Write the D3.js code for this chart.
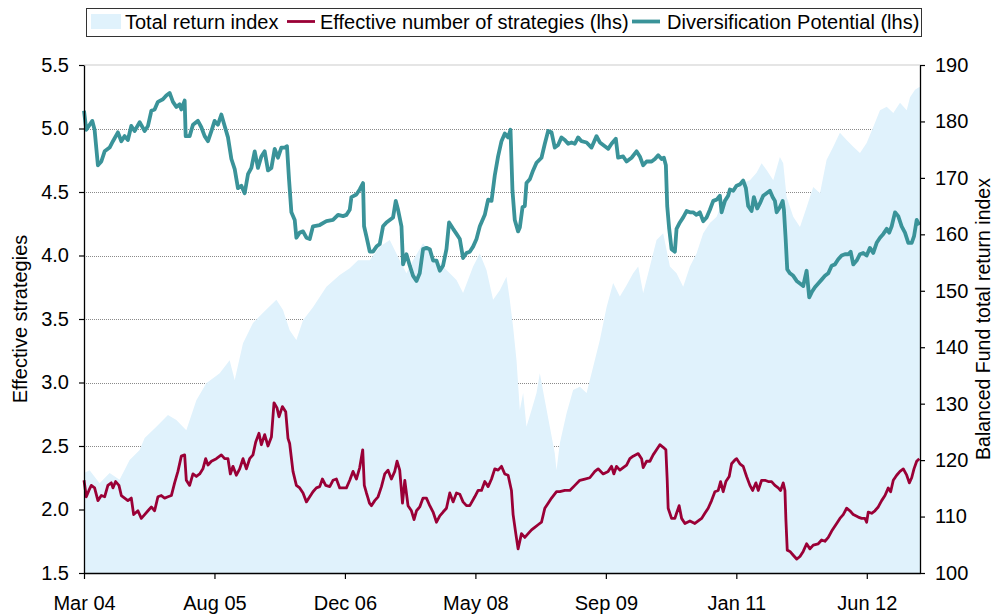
<!DOCTYPE html>
<html>
<head>
<meta charset="utf-8">
<script src="https://cdn.jsdelivr.net/npm/d3@7"></script>
<style>
  html, body { margin: 0; padding: 0; background: #ffffff; }
  svg { display: block; font-family: "Liberation Sans", Arial, sans-serif; }
</style>
</head>
<body>
<svg id="chart" width="995" height="614"></svg>
<script>
// ---------------- DATA (x = months since Mar 2004) ----------------
const xTickMonths = [0, 16.5, 33, 49.5, 66, 82.5, 99];
const xTickLabels = ["Mar 04", "Aug 05", "Dec 06", "May 08", "Sep 09", "Jan 11", "Jun 12"];
const leftTicks = [1.5, 2.0, 2.5, 3.0, 3.5, 4.0, 4.5, 5.0, 5.5];
const rightTicks = [100, 110, 120, 130, 140, 150, 160, 170, 180, 190];
const seriesNames = ["Total return index", "Effective number of strategies (lhs)", "Diversification Potential (lhs)"];
const axisTitles = ["Effective strategies", "Balanced Fund total return index"];

// Balanced Fund total return index (rhs)
const totalReturn = [
  [0,117.7],[0.71,118.2],[1.97,115.9],[3.24,117.7],[4.50,116.5],[5.77,120.0],[7.04,121.8],[7.67,123.9],
  [9.15,125.9],[10.62,128.0],[11.68,127.1],[12.94,125.3],[14.21,130.6],[15.47,133.6],[17.16,135.4],
  [18.42,137.7],[19.06,134.2],[20.11,140.7],[21.37,144.3],[22.64,146.1],[24.33,148.4],[25.17,146.6],
  [26.01,143.0],[26.86,141.3],[27.70,144.8],[28.96,147.1],[30.66,150.7],[32.34,152.8],[33.61,154.0],
  [34.66,155.4],[36.14,155.4],[37.40,157.8],[38.67,159.0],[39.93,155.4],[40.78,153.1],[41.62,155.4],
  [42.88,158.4],[44.15,156.0],[45.41,154.3],[46.26,153.1],[47.11,151.9],[47.94,149.6],[49.21,154.3],
  [50.06,156.6],[50.90,153.7],[51.74,148.4],[52.59,150.1],[53.43,152.5],[53.85,148.4],[54.27,143.6],
  [54.70,137.7],[55.12,128.9],[55.54,131.9],[55.96,125.9],[56.60,128.9],[57.23,131.9],[57.65,135.4],
  [58.28,130.6],[58.91,125.9],[59.54,121.2],[59.76,118.2],[60.18,123.0],[61.03,128.3],[61.86,132.4],
  [62.71,133.0],[63.56,131.9],[64.39,136.5],[65.24,141.3],[66.09,147.1],[66.92,151.4],[67.77,149.0],
  [68.62,151.0],[69.45,153.1],[70.09,154.3],[70.72,149.6],[71.57,154.3],[72.41,159.0],[73.25,160.2],
  [74.10,154.3],[74.94,153.1],[75.78,150.7],[76.63,154.3],[77.47,156.6],[78.31,160.2],[79.16,162.0],
  [80.01,163.1],[80.84,166.1],[81.69,167.9],[82.54,167.9],[83.37,169.1],[84.22,169.6],[85.06,170.9],
  [85.70,172.6],[86.33,171.4],[87.17,169.6],[88.01,173.7],[88.43,172.6],[88.86,166.6],[89.70,163.1],
  [90.55,161.3],[91.39,164.8],[92.23,168.4],[93.08,167.3],[93.92,173.2],[94.76,175.5],[95.60,178.0],
  [96.45,176.7],[97.29,175.5],[98.14,174.4],[98.98,176.2],[99.82,179.0],[100.67,182.0],[101.52,182.6],
  [102.35,181.5],[103.20,183.3],[104.05,182.0],[104.47,184.3],[105.10,185.6],[105.64,186.1],[105.73,186.0]
];

// Effective number of strategies (lhs)
const effStrategies = [
  [0,2.23],[0.29,2.10],[0.62,2.15],[0.92,2.19],[1.34,2.17],[1.76,2.07],[2.19,2.11],[2.61,2.10],[3.02,2.19],
  [3.45,2.21],[3.66,2.17],[4.00,2.22],[4.42,2.19],[4.72,2.11],[5.14,2.09],[5.55,2.07],[5.98,2.09],[6.28,1.96],
  [6.82,1.99],[7.25,1.93],[7.67,1.96],[8.09,1.99],[8.52,2.02],[8.93,1.99],[9.35,2.10],[9.78,2.11],[10.20,2.09],
  [10.62,2.10],[11.05,2.11],[11.46,2.21],[11.88,2.30],[12.31,2.42],[12.73,2.43],[12.94,2.23],[13.36,2.19],
  [13.78,2.28],[14.21,2.26],[14.63,2.28],[15.04,2.32],[15.39,2.40],[15.68,2.35],[16.11,2.38],[16.74,2.40],
  [17.37,2.43],[17.79,2.40],[18.21,2.40],[18.51,2.28],[18.84,2.34],[19.27,2.27],[19.69,2.32],[20.11,2.40],
  [20.54,2.32],[20.95,2.40],[21.37,2.43],[21.71,2.53],[22.13,2.60],[22.43,2.51],[22.85,2.59],[23.27,2.50],
  [23.70,2.57],[24.03,2.84],[24.41,2.80],[24.66,2.73],[25.09,2.81],[25.51,2.77],[25.80,2.56],[26.01,2.52],
  [26.43,2.30],[26.86,2.19],[27.28,2.17],[27.70,2.13],[28.13,2.06],[28.55,2.10],[28.96,2.14],[29.39,2.17],
  [29.81,2.18],[30.15,2.24],[30.57,2.19],[31.08,2.18],[31.49,2.23],[31.92,2.24],[32.34,2.17],[32.76,2.17],
  [33.19,2.17],[33.61,2.23],[34.02,2.30],[34.45,2.24],[34.87,2.33],[35.25,2.47],[35.45,2.19],[35.72,2.13],
  [35.92,2.09],[36.10,2.05],[36.35,2.03],[36.77,2.07],[37.19,2.10],[37.62,2.18],[38.04,2.28],[38.45,2.31],
  [38.88,2.24],[39.30,2.30],[39.59,2.38],[39.93,2.31],[40.28,2.05],[40.57,2.23],[40.98,2.03],[41.41,1.99],
  [41.74,1.92],[42.05,1.99],[42.46,2.02],[42.88,2.09],[43.31,2.09],[43.73,2.03],[44.15,1.98],[44.58,1.90],
  [45.00,1.95],[45.41,1.98],[45.84,2.01],[46.26,2.13],[46.68,2.06],[47.11,2.13],[47.53,2.12],[47.94,2.06],
  [48.37,2.03],[48.79,2.03],[49.42,2.10],[49.84,2.15],[50.27,2.15],[50.69,2.22],[51.11,2.18],[51.54,2.24],
  [51.95,2.32],[52.37,2.31],[52.80,2.34],[53.22,2.28],[53.64,2.27],[54.06,2.15],[54.27,1.96],[54.61,1.81],
  [54.90,1.69],[55.33,1.81],[55.75,1.78],[56.17,1.81],[56.60,1.84],[57.01,1.86],[57.43,1.88],[57.86,1.90],
  [58.28,2.01],[58.70,2.05],[59.13,2.09],[59.76,2.14],[60.18,2.14],[60.81,2.15],[61.44,2.15],[62.08,2.19],
  [62.71,2.23],[63.34,2.24],[63.97,2.25],[64.61,2.30],[65.02,2.32],[65.66,2.28],[66.29,2.30],[66.72,2.34],
  [67.01,2.28],[67.35,2.34],[67.77,2.31],[68.19,2.33],[68.62,2.35],[69.03,2.40],[69.45,2.42],[70.09,2.44],
  [70.52,2.40],[70.72,2.33],[71.15,2.38],[71.57,2.38],[71.98,2.43],[72.41,2.47],[72.83,2.51],[73.25,2.49],
  [73.59,2.47],[73.76,2.23],[73.88,2.01],[74.31,1.93],[74.73,1.93],[74.94,1.97],[75.27,2.03],[75.58,1.93],
  [76.00,1.89],[76.63,1.91],[77.26,1.89],[77.68,1.91],[78.11,1.93],[78.52,1.97],[78.94,2.01],[79.37,2.07],
  [79.79,2.14],[80.21,2.15],[80.51,2.22],[80.84,2.14],[81.18,2.22],[81.60,2.26],[81.90,2.36],[82.32,2.39],
  [82.54,2.40],[82.95,2.36],[83.37,2.34],[83.80,2.26],[84.22,2.19],[84.56,2.15],[84.98,2.21],[85.27,2.15],
  [85.70,2.23],[86.12,2.23],[86.53,2.22],[86.96,2.22],[87.38,2.19],[87.80,2.17],[88.10,2.15],[88.43,2.21],
  [88.65,2.15],[88.77,1.92],[88.94,1.68],[89.28,1.67],[89.70,1.64],[90.13,1.61],[90.55,1.63],[90.96,1.67],
  [91.39,1.73],[91.81,1.69],[92.23,1.72],[92.86,1.73],[93.29,1.76],[93.71,1.75],[94.13,1.78],[94.56,1.83],
  [95.19,1.89],[95.60,1.93],[96.02,1.96],[96.45,2.01],[96.87,1.99],[97.29,1.96],[97.92,1.94],[98.35,1.93],
  [98.77,1.93],[98.98,1.90],[99.19,1.98],[99.61,1.97],[100.03,1.99],[100.45,2.02],[100.88,2.07],[101.30,2.11],
  [101.72,2.17],[102.02,2.14],[102.35,2.23],[102.78,2.27],[103.20,2.30],[103.62,2.32],[104.05,2.27],
  [104.38,2.21],[104.68,2.25],[104.97,2.32],[105.31,2.38],[105.64,2.40]
];

// Diversification Potential (lhs)
const divPotential = [
  [0,5.14],[0.29,4.99],[1.05,5.06],[1.34,4.99],[1.76,4.71],[2.19,4.74],[2.61,4.82],[3.24,4.85],[3.66,4.90],
  [4.29,4.97],[4.72,4.90],[5.14,4.94],[5.55,4.91],[5.98,5.02],[6.40,4.98],[7.04,5.05],[7.67,4.98],[8.09,5.02],
  [8.52,5.14],[8.93,5.15],[9.35,5.21],[9.98,5.23],[10.41,5.26],[10.83,5.28],[11.25,5.21],[11.68,5.17],
  [12.10,5.19],[12.31,5.15],[12.73,5.22],[12.86,4.94],[13.36,4.94],[13.78,5.03],[14.41,5.06],[14.84,5.01],
  [15.26,4.94],[15.68,4.90],[16.11,4.98],[16.52,5.06],[16.94,5.03],[17.37,5.11],[17.79,5.02],[18.21,4.93],
  [18.64,4.76],[19.06,4.68],[19.47,4.53],[19.90,4.55],[20.32,4.49],[20.74,4.64],[21.17,4.69],[21.59,4.82],
  [22.00,4.69],[22.43,4.78],[22.85,4.82],[23.27,4.67],[23.70,4.69],[24.12,4.84],[24.53,4.77],[24.96,4.85],
  [25.38,4.85],[25.67,4.86],[25.93,4.60],[26.23,4.34],[26.65,4.28],[26.86,4.14],[27.28,4.18],[27.70,4.19],
  [28.13,4.14],[28.55,4.13],[28.96,4.23],[29.81,4.24],[30.66,4.27],[31.49,4.28],[32.13,4.32],[32.76,4.31],
  [33.19,4.32],[33.61,4.36],[33.82,4.46],[34.45,4.48],[34.87,4.52],[35.29,4.57],[35.42,4.23],[35.72,4.15],
  [36.14,4.03],[36.55,4.03],[36.99,4.07],[37.40,4.09],[37.82,4.23],[38.25,4.26],[38.67,4.28],[39.09,4.30],
  [39.43,4.43],[39.72,4.36],[40.15,4.23],[40.35,3.93],[40.78,4.01],[41.20,3.92],[41.62,3.84],[42.05,3.80],
  [42.46,3.86],[42.88,4.05],[43.31,4.06],[43.73,4.05],[44.15,3.96],[44.58,3.96],[45.00,3.88],[45.41,3.92],
  [45.84,4.05],[46.17,4.26],[46.68,4.21],[47.11,4.17],[47.53,4.13],[47.94,3.98],[48.37,4.02],[48.79,4.03],
  [49.21,4.07],[49.64,4.13],[50.06,4.23],[50.69,4.32],[51.11,4.44],[51.54,4.43],[51.95,4.63],[52.37,4.78],
  [52.80,4.90],[53.22,4.96],[53.64,4.93],[53.94,4.99],[54.19,4.51],[54.48,4.28],[54.90,4.19],[55.12,4.22],
  [55.46,4.38],[55.75,4.39],[55.96,4.57],[56.38,4.60],[56.80,4.67],[57.23,4.73],[57.86,4.77],[58.28,4.88],
  [58.70,4.98],[59.13,4.97],[59.54,4.85],[59.96,4.87],[60.39,4.93],[60.81,4.91],[61.23,4.88],[61.66,4.89],
  [62.08,4.88],[62.49,4.93],[62.92,4.90],[63.56,4.89],[64.19,4.85],[64.82,4.94],[65.24,4.89],[65.87,4.86],
  [66.29,4.84],[66.72,4.88],[67.26,4.92],[67.55,4.77],[68.19,4.78],[68.62,4.74],[69.25,4.77],[69.88,4.82],
  [70.30,4.78],[70.72,4.71],[71.15,4.74],[71.78,4.74],[72.20,4.76],[72.62,4.79],[73.05,4.76],[73.34,4.77],
  [73.59,4.71],[73.76,4.39],[74.01,4.21],[74.31,4.05],[74.73,4.03],[74.94,4.21],[75.36,4.26],[75.78,4.30],
  [76.21,4.35],[76.63,4.34],[77.04,4.34],[77.47,4.32],[77.89,4.34],[78.31,4.27],[78.74,4.30],[79.16,4.36],
  [79.58,4.43],[80.01,4.44],[80.42,4.47],[80.64,4.34],[81.06,4.43],[81.47,4.47],[81.69,4.52],[82.11,4.51],
  [82.54,4.55],[82.95,4.56],[83.37,4.59],[83.71,4.53],[84.00,4.39],[84.43,4.35],[84.72,4.46],[85.14,4.37],
  [85.48,4.41],[85.90,4.47],[86.33,4.49],[86.75,4.51],[87.09,4.46],[87.38,4.43],[87.60,4.34],[88.01,4.38],
  [88.36,4.43],[88.52,4.36],[88.74,4.13],[88.94,3.89],[89.28,3.86],[89.70,3.84],[90.13,3.80],[90.55,3.78],
  [90.96,3.76],[91.39,3.88],[91.72,3.67],[92.03,3.71],[92.44,3.75],[92.86,3.78],[93.29,3.81],[93.71,3.84],
  [94.13,3.86],[94.56,3.92],[94.97,3.93],[95.39,3.97],[95.82,4.00],[96.24,4.01],[96.66,4.01],[96.96,4.03],
  [97.29,3.93],[97.72,3.96],[98.14,4.01],[98.55,4.02],[98.98,4.00],[99.40,4.06],[99.82,4.02],[100.25,4.10],
  [100.67,4.14],[101.09,4.17],[101.52,4.21],[101.84,4.18],[102.15,4.23],[102.57,4.34],[102.98,4.31],
  [103.41,4.23],[103.83,4.18],[104.25,4.10],[104.68,4.10],[104.97,4.15],[105.31,4.28],[105.64,4.24]
];

const xDomain = [0, 105.73];

// ---------------- CHART ----------------
const svg = d3.select("#chart");
const m = { left: 84, right: 920, top: 65, bottom: 573 };
const FONT = "20px";

const x = d3.scaleLinear().domain(xDomain).range([m.left, m.right]);
const yL = d3.scaleLinear().domain([1.5, 5.5]).range([m.bottom, m.top]);
const yR = d3.scaleLinear().domain([100, 190]).range([m.bottom, m.top]);

const colArea = "#e0f2fc";
const colRed = "#9a0036";
const colTeal = "#3a9399";

svg.append("defs").append("clipPath").attr("id", "plotclip")
  .append("rect").attr("x", m.left).attr("y", m.top - 4)
  .attr("width", m.right - m.left).attr("height", m.bottom - m.top + 4);

// Top border line of plot area
svg.append("line")
  .attr("x1", m.left).attr("x2", m.right)
  .attr("y1", yL(5.5)).attr("y2", yL(5.5))
  .attr("stroke", "#dcdcdc").attr("stroke-width", 1.5);

// gridlines
svg.append("g").selectAll("line")
  .data(leftTicks.filter(d => d > 1.5 && d < 5.5))
  .join("line")
  .attr("x1", m.left).attr("x2", m.right)
  .attr("y1", d => Math.round(yL(d)) + 0.5).attr("y2", d => Math.round(yL(d)) + 0.5)
  .attr("stroke", "#8a8a8a").attr("stroke-width", 1)
  .attr("stroke-dasharray", "1,1");

// area
const area = d3.area()
  .x(d => x(d[0]))
  .y0(yR(100))
  .y1(d => yR(d[1]));
svg.append("path")
  .datum(totalReturn)
  .attr("clip-path", "url(#plotclip)")
  .attr("fill", colArea)
  .attr("d", area);

// lines
const lineL = d3.line().x(d => x(d[0])).y(d => yL(d[1]));
svg.append("path")
  .datum(effStrategies)
  .attr("fill", "none")
  .attr("stroke", colRed)
  .attr("stroke-width", 2.8)
  .attr("stroke-linejoin", "round")
  .attr("d", lineL);

svg.append("path")
  .datum(divPotential)
  .attr("fill", "none")
  .attr("stroke", colTeal)
  .attr("stroke-width", 3.8)
  .attr("stroke-linejoin", "round")
  .attr("d", lineL);

// axes
const axisLeft = d3.axisLeft(yL).tickValues(leftTicks).tickFormat(d3.format(".1f")).tickSize(5).tickSizeOuter(0);
const axisRight = d3.axisRight(yR).tickValues(rightTicks).tickFormat(d3.format("d")).tickSize(5).tickSizeOuter(0);
const axisBottom = d3.axisBottom(x).tickValues(xTickMonths)
  .tickFormat((d, i) => xTickLabels[i]).tickSize(6).tickSizeOuter(0);

function styleAxis(g) {
  g.select(".domain").attr("stroke", "#000").attr("stroke-width", 1.3);
  g.selectAll(".tick line").attr("stroke", "#000").attr("stroke-width", 1.2);
  g.selectAll(".tick text").attr("fill", "#000")
    .style("font-size", FONT).style("font-family", "'Liberation Sans', Arial, sans-serif");
}

svg.append("g").attr("transform", `translate(${m.left},0)`).call(axisLeft).call(styleAxis)
  .selectAll(".tick text").attr("x", -15);
svg.append("g").attr("transform", `translate(${m.right},0)`).call(axisRight).call(styleAxis)
  .selectAll(".tick text").attr("x", 15);
svg.append("g").attr("transform", `translate(0,${m.bottom})`).call(axisBottom).call(styleAxis)
  .selectAll(".tick text").attr("y", 37).attr("dy", 0);

// axis titles
svg.append("text")
  .attr("transform", `translate(27,${(m.top + m.bottom) / 2}) rotate(-90)`)
  .attr("text-anchor", "middle")
  .style("font-size", FONT)
  .text(axisTitles[0]);
svg.append("text")
  .attr("transform", `translate(990,${(m.top + m.bottom) / 2}) rotate(-90)`)
  .attr("text-anchor", "middle")
  .style("font-size", "19.5px")
  .text(axisTitles[1]);

// legend
const leg = svg.append("g");
leg.append("rect")
  .attr("x", 86.5).attr("y", 8.5).attr("width", 835).attr("height", 28)
  .attr("fill", "#fff").attr("stroke", "#333").attr("stroke-width", 1);
const legItems = [
  { name: seriesNames[0], type: "area", color: colArea, sx: 91, tx: 125 },
  { name: seriesNames[1], type: "line", color: colRed, sx: 287, tx: 320 },
  { name: seriesNames[2], type: "line", color: colTeal, sx: 632, tx: 667 }
];
legItems.forEach(it => {
  if (it.type === "area") {
    leg.append("rect").attr("x", it.sx).attr("y", 14).attr("width", 30).attr("height", 15)
      .attr("fill", it.color);
  } else {
    leg.append("line").attr("x1", it.sx).attr("x2", it.sx + 28)
      .attr("y1", 21.5).attr("y2", 21.5)
      .attr("stroke", it.color).attr("stroke-width", it.color === colTeal ? 3.8 : 2.8);
  }
  leg.append("text").attr("x", it.tx).attr("y", 29)
    .style("font-size", FONT).attr("fill", "#000").text(it.name);
});
</script>
</body>
</html>
